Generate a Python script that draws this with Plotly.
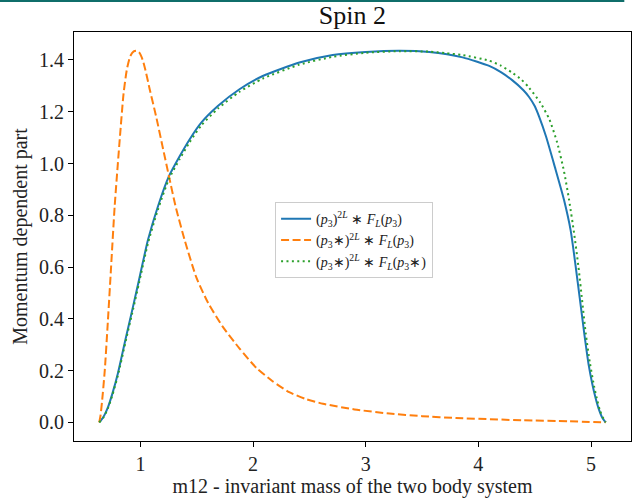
import plotly.graph_objects as go

# ---- data ----
blue_x = [0.634, 0.67, 0.712, 0.75, 0.80, 0.866, 0.934, 0.987, 1.067, 1.155, 1.253, 1.348,
          1.436, 1.54, 1.687, 1.879, 2.086, 2.411, 2.707, 3.0, 3.3, 3.564, 3.86, 4.096, 4.2,
          4.3, 4.4, 4.45, 4.5, 4.54, 4.6, 4.68, 4.76, 4.82, 4.864, 4.90, 4.94, 4.98, 5.01,
          5.04, 5.07, 5.1, 5.13]
blue_y = [0.0, 0.02, 0.059, 0.11, 0.19, 0.318, 0.447, 0.55, 0.705, 0.834, 0.951, 1.028,
          1.093, 1.158, 1.222, 1.287, 1.338, 1.39, 1.419, 1.431, 1.436, 1.431, 1.41, 1.377,
          1.353, 1.322, 1.283, 1.257, 1.222, 1.18, 1.105, 0.985, 0.86, 0.74, 0.602, 0.48,
          0.344, 0.22, 0.151, 0.095, 0.05, 0.018, 0.0]

orange_x = [0.634, 0.645, 0.66, 0.683, 0.71, 0.736, 0.771, 0.816, 0.85, 0.88, 0.91, 0.94,
            0.963, 0.99, 1.02, 1.05, 1.082, 1.14, 1.194, 1.253, 1.312, 1.392, 1.496, 1.6,
            1.73, 1.88, 2.03, 2.17, 2.32, 2.47, 2.62, 2.9, 3.21, 3.5, 3.8, 4.39, 4.8, 5.13]
orange_y = [0.0, 0.025, 0.085, 0.2, 0.385, 0.576, 0.834, 1.093, 1.27, 1.365, 1.415, 1.433,
            1.436, 1.428, 1.4, 1.35, 1.287, 1.18, 1.07, 0.951, 0.834, 0.705, 0.56, 0.462,
            0.37, 0.285, 0.21, 0.16, 0.117, 0.09, 0.072, 0.05, 0.034, 0.024, 0.017, 0.008,
            0.004, 0.0]

green_x = [0.634, 0.67, 0.712, 0.75, 0.80, 0.866, 0.934, 0.987, 1.067, 1.155, 1.253, 1.348,
           1.436, 1.54, 1.687, 1.879, 2.086, 2.411, 2.707, 3.0, 3.3, 3.564, 3.71, 3.86, 4.096,
           4.2, 4.3, 4.38, 4.45, 4.55, 4.63, 4.70, 4.76, 4.805, 4.85, 4.888, 4.92, 4.953,
           4.99, 5.027, 5.05, 5.08, 5.11, 5.13]
green_y = [0.0, 0.018, 0.055, 0.104, 0.182, 0.308, 0.436, 0.538, 0.692, 0.822, 0.94, 1.017,
           1.082, 1.147, 1.212, 1.277, 1.328, 1.382, 1.412, 1.428, 1.434, 1.432, 1.426, 1.419,
           1.397, 1.378, 1.351, 1.325, 1.293, 1.235, 1.171, 1.08, 0.97, 0.86, 0.73, 0.602,
           0.475, 0.344, 0.23, 0.14, 0.095, 0.045, 0.015, 0.0]

names = [
    "(<i>p</i><sub>3</sub>)<sup>2<i>L</i></sup> ∗ <i>F</i><sub><i>L</i></sub>(<i>p</i><sub>3</sub>)",
    "(<i>p</i><sub>3</sub>∗)<sup>2<i>L</i></sup> ∗ <i>F</i><sub><i>L</i></sub>(<i>p</i><sub>3</sub>)",
    "(<i>p</i><sub>3</sub>∗)<sup>2<i>L</i></sup> ∗ <i>F</i><sub><i>L</i></sub>(<i>p</i><sub>3</sub>∗)",
]

x_ticks = [1, 2, 3, 4, 5]
y_ticks = [0.0, 0.2, 0.4, 0.6, 0.8, 1.0, 1.2, 1.4]

FONT = "Liberation Serif, Times New Roman, serif"

fig = go.Figure()
fig.add_trace(go.Scatter(x=blue_x, y=blue_y, mode="lines", name=names[0],
                         line=dict(color="#1f77b4", width=2, shape="spline", smoothing=0.6)))
fig.add_trace(go.Scatter(x=orange_x, y=orange_y, mode="lines", name=names[1],
                         line=dict(color="#ff7f0e", width=2, shape="spline", smoothing=0.6,
                                   dash="8px,3.5px")))
fig.add_trace(go.Scatter(x=green_x, y=green_y, mode="lines", name=names[2],
                         line=dict(color="#2ca02c", width=2, shape="spline", smoothing=0.6,
                                   dash="2px,3.4px")))

axis_common = dict(showgrid=False, zeroline=False, showline=True, linecolor="black",
                   linewidth=1, mirror=True, ticks="outside", ticklen=5, tickcolor="black",
                   tickfont=dict(family=FONT, size=20, color="#222"))

fig.update_layout(
    width=635, height=499,
    margin=dict(l=74, r=4, t=32, b=58),
    paper_bgcolor="white", plot_bgcolor="white",
    title=dict(text="Spin 2", x=0.555, xanchor="center", y=0.970, yanchor="middle",
               font=dict(family=FONT, size=26, color="#111")),
    xaxis=dict(range=[0.41, 5.355], tickvals=x_ticks,
               title=dict(text="m12 - invariant mass of the two body system",
                          font=dict(family=FONT, size=20, color="#222"), standoff=2),
               **axis_common),
    yaxis=dict(range=[-0.072, 1.508], tickvals=y_ticks, tickformat=".1f",
               title=dict(text="Momentum dependent part",
                          font=dict(family=FONT, size=20, color="#222"), standoff=6),
               **axis_common),
    legend=dict(x=0.361, y=0.584, xanchor="left", yanchor="top",
                bgcolor="rgba(255,255,255,0.8)", bordercolor="#cccccc", borderwidth=1,
                font=dict(family=FONT, size=14, color="#222"), tracegroupgap=0,
                itemwidth=30),
    showlegend=True,
    shapes=[dict(type="line", xref="paper", yref="paper", x0=-0.133, x1=0.988,
                 y0=1.076, y1=1.076, line=dict(color="#0f6e6a", width=2))],
)

fig.write_html("out.html")
